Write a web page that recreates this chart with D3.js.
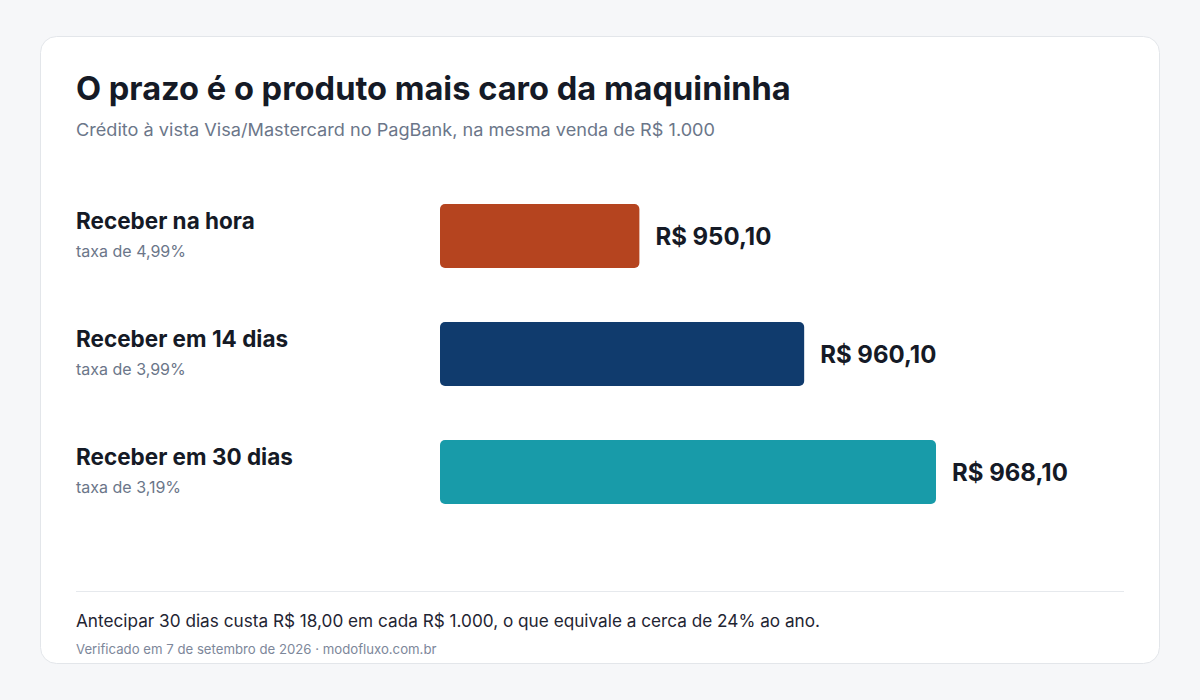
<!DOCTYPE html>
<html><head><meta charset="utf-8">
<script src="https://cdn.jsdelivr.net/npm/d3@7"></script>
<style>body{margin:0;background:#f6f7f9;font-family:Inter,"Noto Sans",sans-serif}</style>
</head><body><svg id="chart" width="1200" height="700"></svg>
<script>
const labels = ["Receber na hora", "Receber em 14 dias", "Receber em 30 dias"];
const rates = ["taxa de 4,99%", "taxa de 3,99%", "taxa de 3,19%"];
const values = [950.10, 960.10, 968.10];
const colors = ["#b5441f", "#103b6d", "#189ba9"];

const fmt = v => "R$ " + v.toFixed(2).replace(".", ",");
const svg = d3.select("#chart");

svg.append("rect").attr("x", 40.5).attr("y", 36.5).attr("width", 1119).attr("height", 627)
  .attr("rx", 16).attr("fill", "#fff").attr("stroke", "#e3e6ea");

svg.append("text").attr("x", 76).attr("y", 100).attr("font-size", 32.6).attr("font-weight", 700)
  .attr("fill", "#151a26").text("O prazo é o produto mais caro da maquininha");
svg.append("text").attr("x", 76).attr("y", 136).attr("font-size", 17).attr("fill", "#6b7689")
  .attr("textLength", 639).attr("lengthAdjust", "spacingAndGlyphs")
  .text("Crédito à vista Visa/Mastercard no PagBank, na mesma venda de R$ 1.000");

const x = d3.scaleLinear().domain([938, 968.1]).range([440, 936]);
const y = d3.scaleBand().domain(labels).range([204, 504]).paddingInner(54 / 118).paddingOuter(0);

const g = svg.selectAll("g.row").data(labels).enter().append("g").attr("class", "row");
g.append("rect").attr("x", x(938)).attr("y", d => y(d)).attr("height", y.bandwidth())
  .attr("width", (d, i) => x(values[i]) - x(938)).attr("rx", 5).attr("fill", (d, i) => colors[i]);
g.append("text").attr("x", (d, i) => x(values[i]) + 16).attr("y", d => y(d) + y.bandwidth() / 2 + 9)
  .attr("font-size", 24).attr("font-weight", 700).attr("fill", "#151a26").text((d, i) => fmt(values[i]));
g.append("text").attr("x", 76).attr("y", d => y(d) + 25).attr("font-size", 22.5).attr("font-weight", 700)
  .attr("fill", "#151a26").text(d => d);
g.append("text").attr("x", 76).attr("y", d => y(d) + 53).attr("font-size", 16).attr("fill", "#6b7689")
  .text((d, i) => rates[i]);

svg.append("line").attr("x1", 76).attr("x2", 1124).attr("y1", 591.5).attr("y2", 591.5).attr("stroke", "#e6e9ed");
svg.append("text").attr("x", 76).attr("y", 627).attr("font-size", 17.2).attr("fill", "#1f2533")
  .text("Antecipar 30 dias custa R$ 18,00 em cada R$ 1.000, o que equivale a cerca de 24% ao ano.");
svg.append("text").attr("x", 76).attr("y", 654).attr("font-size", 13.2).attr("fill", "#7d879a")
  .text("Verificado em 7 de setembro de 2026 · modofluxo.com.br");
</script></body></html>
